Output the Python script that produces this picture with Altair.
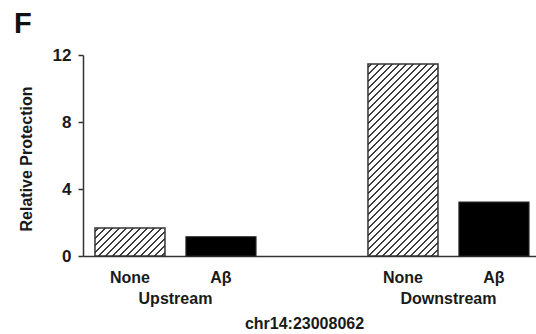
import altair as alt
import pandas as pd

# ---- data ----
groups = ["Upstream", "Upstream", "Downstream", "Downstream"]
treatments = ["None", "Aβ", "None", "Aβ"]
values = [1.67, 1.15, 11.46, 3.22]
y_ticks = [0, 4, 8, 12]
x_title = "chr14:23008062"
y_title = "Relative Protection"
panel_label = "F"

# ---- layout / style ----
W, H = 453, 201
Y_MAX = 12
STEP = 91.0
P_INNER = 0.2308
BAR_W = STEP * (1 - P_INNER)
FONT = "Liberation Sans"
DARK = "#1a1a1a"

keys = [g + "|" + t for g, t in zip(groups, treatments)]
domain = [keys[0], keys[1], "gap", keys[2], keys[3]]

df = pd.DataFrame({"key": keys, "group": groups, "treatment": treatments, "value": values})

x_scale = alt.Scale(domain=domain, paddingInner=P_INNER, paddingOuter=0.1044, align=0.63)
y_scale = alt.Scale(domain=[0, Y_MAX], nice=False)

x_enc = alt.X(
    "key:N",
    scale=x_scale,
    sort=domain,
    axis=alt.Axis(
        title=x_title,
        labelExpr="split(datum.label,'|')[1] || ''",
        ticks=False,
        labelPadding=13,
        labelAngle=0,
        labelFont=FONT,
        labelFontSize=16,
        labelFontWeight="bold",
        labelColor=DARK,
        titleFont=FONT,
        titleFontSize=16,
        titleFontWeight="bold",
        titleColor=DARK,
        titleX=221,
        titleY=72,
        titleBaseline="alphabetic",
        titleAlign="center",
        domainColor="#333333",
        domainWidth=1.5,
    ),
)
y_enc = alt.Y(
    "value:Q",
    scale=y_scale,
    axis=alt.Axis(
        title=y_title,
        values=y_ticks,
        grid=False,
        tickSize=5,
        tickColor="#333333",
        tickWidth=1.5,
        labelPadding=7,
        labelFont=FONT,
        labelFontSize=17,
        labelFontWeight="bold",
        labelColor=DARK,
        titleFont=FONT,
        titleFontSize=16,
        titleFontWeight="bold",
        titleColor=DARK,
        titleAngle=-90,
        titleX=-57,
        titleY=H / 2 + 3,
        titleAlign="center",
        titleBaseline="middle",
        domainColor="#333333",
        domainWidth=1.5,
    ),
)


def hatch_gradient(value, period=7.0, thick=1.8, color="#3a3a3a"):
    """Diagonal '/' stripes as a sharp-stop linear gradient (styling only)."""
    w = BAR_W
    h = value / Y_MAX * H
    r = h / w
    s = (1 + r) / (1 + r * r)
    L = w + h
    stops = [{"offset": 0.0, "color": "white"}]
    c = period / 2
    while c < L:
        a = max(0.0, (c - thick / 2 - 0.4) / L)
        b = max(0.0, (c - thick / 2 + 0.4) / L)
        d = min(1.0, (c + thick / 2 - 0.4) / L)
        e = min(1.0, (c + thick / 2 + 0.4) / L)
        stops += [
            {"offset": a, "color": "white"},
            {"offset": b, "color": color},
            {"offset": d, "color": color},
            {"offset": e, "color": "white"},
        ]
        c += period
    stops.append({"offset": 1.0, "color": "white"})
    return {"gradient": "linear", "x1": 0, "y1": 0, "x2": s, "y2": s * r, "stops": stops}


base = alt.Chart(df)

solid = base.transform_filter(alt.datum.treatment != "None").mark_bar(
    fill="#000000", stroke="#222222", strokeWidth=1.2
).encode(x=x_enc, y=y_enc)

layers = [solid]
for k, t, v in zip(keys, treatments, values):
    if t == "None":
        layers.append(
            base.transform_filter(alt.datum.key == k)
            .mark_bar(fill=hatch_gradient(v), stroke="#333333", strokeWidth=1.5)
            .encode(x=x_enc, y=y_enc)
        )

grp_df = pd.DataFrame({"group": ["Upstream", "Downstream"], "key": [keys[0], keys[2]]})
grp_text = alt.Chart(grp_df).mark_text(
    font=FONT, fontSize=16, fontWeight="bold", color=DARK, dx=STEP / 2,
    align="center", baseline="alphabetic"
).encode(x=x_enc, y=alt.value(H + 48), text="group:N")

f_df = pd.DataFrame({"t": [panel_label]})
f_text = alt.Chart(f_df).mark_text(
    font=FONT, fontSize=29, fontWeight="bold", color="#111111", align="left", baseline="alphabetic"
).encode(x=alt.value(-69), y=alt.value(-22), text="t:N")

chart = alt.layer(*layers, grp_text, f_text).properties(
    width=W,
    height=H,
    padding={"left": 83, "top": 55, "right": 0, "bottom": 78},
    autosize=alt.AutoSizeParams(type="none"),
    background="white",
).configure_view(stroke=None)

chart.save("out.html", embed_options={"renderer": "svg", "actions": False})
